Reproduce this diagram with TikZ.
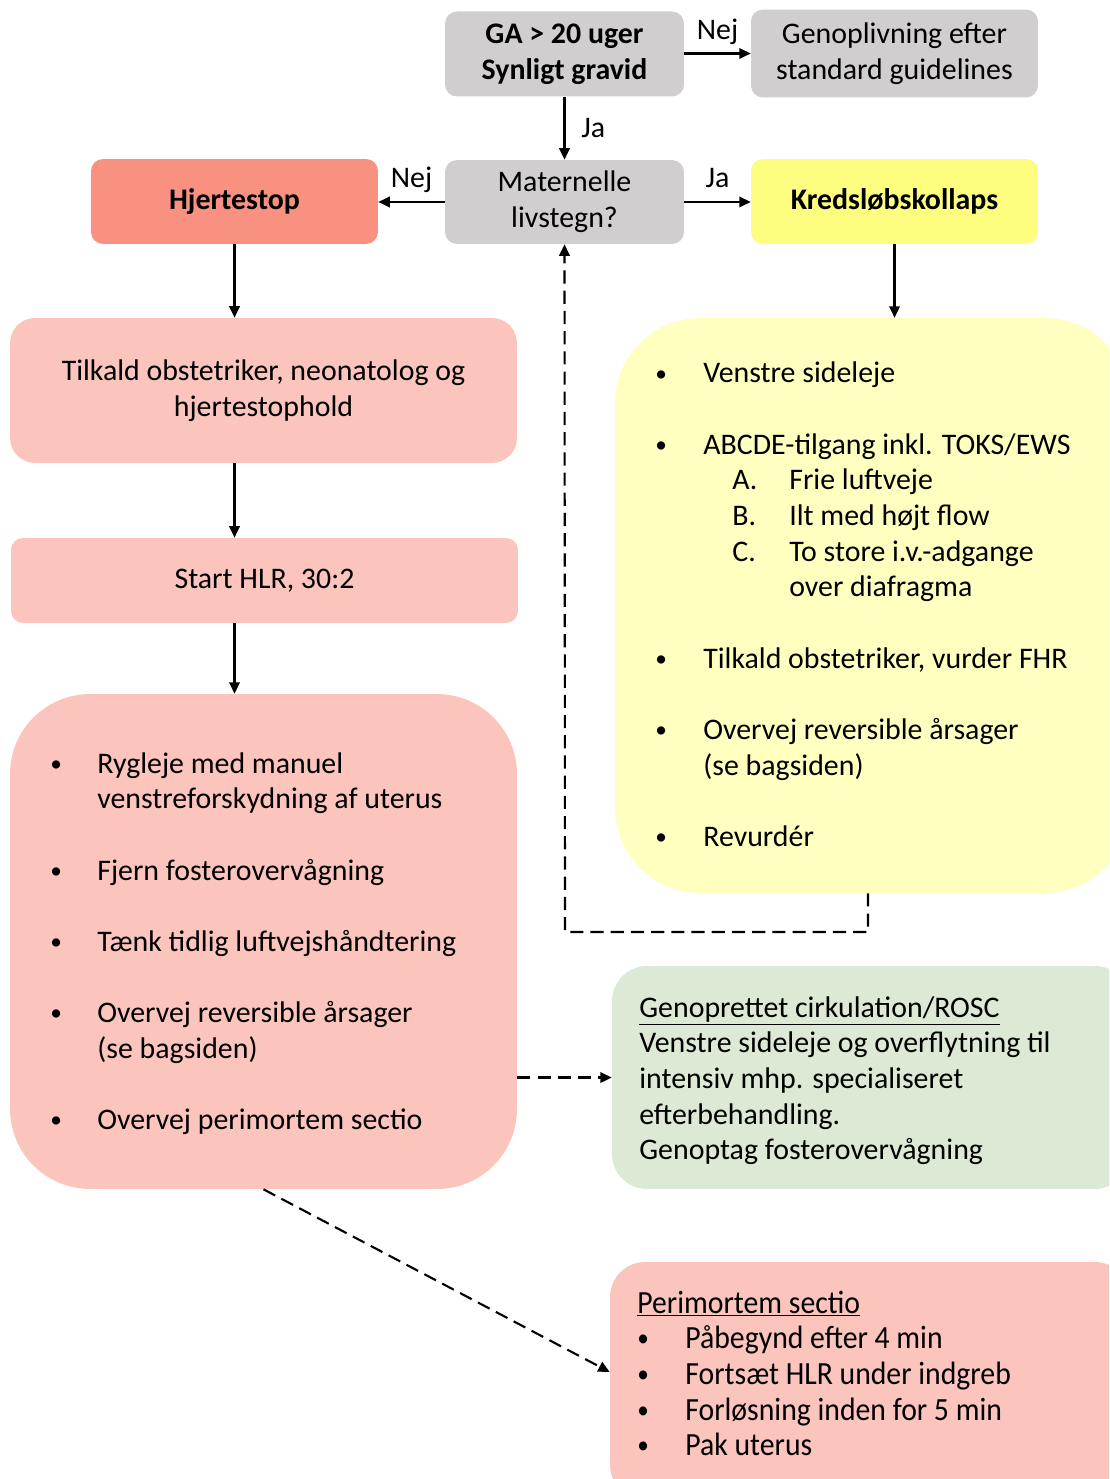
\documentclass[tikz,border=0pt]{standalone}
\usepackage{fontspec}
\setmainfont{Carlito}
\newfontfamily\narrowfont[FakeStretch=0.92]{Carlito}
\usetikzlibrary{arrows.meta,calc}
\definecolor{BoxGrey}{RGB}{208,206,206}
\definecolor{AlertRed}{RGB}{248,145,128}
\definecolor{SoftRed}{RGB}{251,197,189}
\definecolor{StrongYellow}{RGB}{253,253,128}
\definecolor{SoftYellow}{RGB}{255,255,192}
\definecolor{SoftGreen}{RGB}{220,233,213}
\newcommand{\flowfont}{\fontsize{17pt}{20.3pt}\selectfont}
\newcommand{\itemdot}{\raisebox{1pt}{\scalebox{0.78}{\textbullet}}}
\tikzset{
  box/.style={rounded corners=0.24cm, inner sep=0pt, align=center,
    font=\flowfont},
  greybox/.style={box, fill=BoxGrey, minimum height=1.7cm},
  alertbox/.style={box, fill=AlertRed, minimum height=1.7cm},
  yellowbox/.style={box, fill=StrongYellow, minimum height=1.7cm},
  redarea/.style={box, fill=SoftRed},
  yellowarea/.style={box, fill=SoftYellow, rounded corners=1.7cm},
  greenarea/.style={box, fill=SoftGreen, rounded corners=0.7cm},
  listtext/.style={anchor=base west, inner sep=0pt, font=\flowfont},
  answer/.style={font=\flowfont, inner sep=0pt, anchor=base},
  arrow/.style={-{Triangle[length=6.5pt,width=6pt]}, line width=1.2pt},
  dasharrow/.style={arrow, dash pattern=on 7.5pt off 4pt}
}

\begin{document}
\begin{tikzpicture}[x=0.02cm, y=-0.02cm]
  \useasboundingbox (0,0) rectangle (1109,1479);
  \clip (0,0) rectangle (1109,1479);

  % top row
  \node[greybox, minimum width=4.78cm] (ga) at (564.5,54)
    {\textbf{GA > 20 uger}\\\textbf{Synligt gravid}};
  \node[greybox, minimum width=5.74cm, minimum height=1.76cm] (geno) at (894.5,53.5)
    {Genoplivning efter\\standard guidelines};
  \node[greybox, minimum width=4.78cm, minimum height=1.68cm] (mat) at (564.5,202)
    {Maternelle\\livstegn?};
  \node[alertbox, minimum width=5.74cm] (stop) at (234.5,201.5) {\textbf{Hjertestop}};
  \node[yellowbox, minimum width=5.74cm] (kreds) at (894.5,201.5) {\textbf{Kredsløbskollaps}};

  % left column
  \node[redarea, rounded corners=0.5cm, minimum width=10.14cm, minimum height=2.9cm]
    (tilkald) at (263.5,390.5) {Tilkald obstetriker, neonatolog og\\hjertestophold};
  \node[redarea, minimum width=10.14cm, minimum height=1.7cm] (hlr) at (264.5,580.5)
    {Start HLR, 30:2};
  \node[redarea, rounded corners=1.6cm, minimum width=10.14cm, minimum height=9.9cm]
    (actions) at (263.5,941.5) {};
  \node[listtext] (actionlist) at (50,773) {\begin{tabular}[t]{@{}p{0.94cm}@{}l@{}}
    \itemdot & Rygleje med manuel\\
     & venstreforskydning af uterus\\
     & \\
    \itemdot & Fjern fosterovervågning\\
     & \\
    \itemdot & Tænk tidlig luftvejshåndtering\\
     & \\
    \itemdot & Overvej reversible årsager\\
     & (se bagsiden)\\
     & \\
    \itemdot & Overvej perimortem sectio
  \end{tabular}};

  % right column
  \node[yellowarea, minimum width=10.3cm, minimum height=11.5cm] (circ) at (872.5,605.5) {};
  \node[listtext] (circlist) at (655,383) {\begin{tabular}[t]{@{}p{0.96cm}@{}l@{}}
    \itemdot & Venstre sideleje\\
     & \\
    \itemdot & ABCDE-tilgang inkl. TOKS/EWS\\
     & \hspace*{0.58cm}\makebox[1.14cm][l]{A.}Frie luftveje\\
     & \hspace*{0.58cm}\makebox[1.14cm][l]{B.}Ilt med højt flow\\
     & \hspace*{0.58cm}\makebox[1.14cm][l]{C.}To store i.v.-adgange\\
     & \hspace*{1.72cm}over diafragma\\
     & \\
    \itemdot & Tilkald obstetriker, vurder FHR\\
     & \\
    \itemdot & Overvej reversible årsager\\
     & (se bagsiden)\\
     & \\
    \itemdot & Revurdér
  \end{tabular}};
  \node[greenarea, minimum width=10.36cm, minimum height=4.46cm] (rosc) at (871,1077.5) {};
  \node[listtext] (rosctext) at (639,1017) {\begin{tabular}[t]{@{}l@{}}
    \underline{Genoprettet cirkulation/ROSC}\\
    Venstre sideleje og overflytning til\\
    intensiv mhp. specialiseret\\
    efterbehandling.\\
    Genoptag fosterovervågning
  \end{tabular}};
  \node[redarea, rounded corners=0.7cm, minimum width=10.4cm, minimum height=4.76cm]
    (sectio) at (870,1381) {};
  \node[listtext] (sectiolist) at (637,1313) {\narrowfont\fontsize{18.4pt}{20.3pt}\selectfont
    \begin{tabular}[t]{@{}p{0.96cm}@{}l@{}}
    \multicolumn{2}{@{}l@{}}{\underline{Perimortem sectio}}\\
    \itemdot & Påbegynd efter 4 min\\
    \itemdot & Fortsæt HLR under indgreb\\
    \itemdot & Forløsning inden for 5 min\\
    \itemdot & Pak uterus
  \end{tabular}};

  % connectors
  \draw[arrow] (ga.east |- geno.west) -- (geno.west) node[answer, midway, yshift=8pt] {Nej};
  \draw[arrow] (ga.south) -- (mat.north)
    node[answer, midway, anchor=base west, xshift=9pt, yshift=-5.4pt] {Ja};
  \draw[arrow] (mat.west) -- (mat.west -| stop.east) node[answer, midway, yshift=8pt] {Nej};
  \draw[arrow] (mat.east) -- (mat.east -| kreds.west) node[answer, midway, yshift=8pt] {Ja};
  \draw[arrow] (stop.south) -- (stop.south |- tilkald.north);
  \draw[arrow] (stop.south |- tilkald.south) -- (stop.south |- hlr.north);
  \draw[arrow] (hlr.south -| stop.south) -- (stop.south |- actions.north);
  \draw[arrow] (kreds.south) -- (kreds.south |- circ.north);

  \coordinate (backR) at (868,932);
  \coordinate (backL) at (565,932);
  \draw[dasharrow] (backR |- circ.south) -- (backR) -- (backL) -- (mat.south);
  \draw[dasharrow] (actions.east |- rosc.west) -- (rosc.west);
  \draw[dasharrow] (actions.south) -- ([yshift=0.18cm]sectio.west);
\end{tikzpicture}
\end{document}
